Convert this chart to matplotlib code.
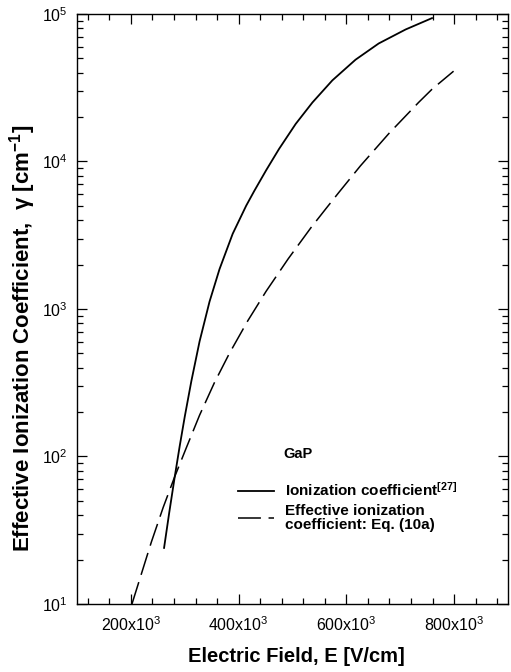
import matplotlib
matplotlib.use("Agg")
import matplotlib.pyplot as plt
from matplotlib.ticker import FixedLocator, MultipleLocator, LogLocator, NullFormatter, FixedFormatter

plt.rcParams['font.family'] = ['Liberation Sans', 'DejaVu Sans']
plt.rcParams['mathtext.fontset'] = 'custom'
plt.rcParams['mathtext.rm'] = 'Liberation Sans'
plt.rcParams['mathtext.bf'] = 'Liberation Sans:bold'
plt.rcParams['mathtext.it'] = 'Liberation Sans:italic'

# --- data (E in V/cm, gamma in 1/cm) ---
E_ion = [261.6e3, 271e3, 281.3e3, 290.6e3, 300e3, 312.2e3, 327.5e3, 346e3, 364.5e3,
         389e3, 414e3, 429e3, 451e3, 475e3, 506e3, 537e3, 574e3, 617e3, 660e3,
         710e3, 759e3]
g_ion = [24.0, 41.2, 72.4, 117.5, 186.2, 323.6, 602.6, 1122, 1862,
         3236, 5012, 6310, 8710, 12160, 17990, 25120, 35480, 48980, 63100,
         78520, 93760]

E_eff = [202e3, 238e3, 260e3, 281e3, 303e3, 327.5e3, 355e3, 383e3, 417e3, 451e3,
         492e3, 534e3, 562e3, 586e3, 626e3, 679e3, 734e3, 759e3, 799e3]
g_eff = [10, 26.3, 45.2, 72.4, 114.8, 190.5, 316.2, 501.2, 831.8, 1318,
         2188, 3548, 4786, 6166, 9333, 15490, 25120, 30900, 40930]

x_ticks = [200e3, 400e3, 600e3, 800e3]
x_tick_labels = [r'200x10$^{\mathregular{3}}$', r'400x10$^{\mathregular{3}}$',
                 r'600x10$^{\mathregular{3}}$', r'800x10$^{\mathregular{3}}$']
y_ticks = [1e1, 1e2, 1e3, 1e4, 1e5]
y_tick_labels = [r'10$^{\mathregular{1}}$', r'10$^{\mathregular{2}}$', r'10$^{\mathregular{3}}$',
                 r'10$^{\mathregular{4}}$', r'10$^{\mathregular{5}}$']

label_ion = r'Ionization coefficient$^{\mathbf{[27]}}$'
label_eff = 'Effective ionization\ncoefficient: Eq. (10a)'

fig = plt.figure(figsize=(5.11, 6.72), dpi=100)
ax = fig.add_axes([0.1507, 0.1012, 0.8434, 0.878])

ax.plot(E_ion, g_ion, color='black', lw=1.3, label=label_ion)
ax.plot(E_eff, g_eff, color='black', lw=1.1, dashes=(15, 5), label=label_eff)

ax.set_yscale('log')
ax.set_xlim(100e3, 900e3)
ax.set_ylim(10, 1e5)

ax.xaxis.set_major_locator(FixedLocator(x_ticks))
ax.xaxis.set_major_formatter(FixedFormatter(x_tick_labels))
ax.xaxis.set_minor_locator(MultipleLocator(40e3))
ax.yaxis.set_major_locator(FixedLocator(y_ticks))
ax.yaxis.set_major_formatter(FixedFormatter(y_tick_labels))
ax.yaxis.set_minor_locator(LogLocator(base=10, subs=range(2, 10)))
ax.yaxis.set_minor_formatter(NullFormatter())

ax.tick_params(which='both', direction='in', top=True, right=True, width=0.9)
ax.tick_params(which='major', length=7, labelsize=11.5)
ax.tick_params(axis='x', which='major', pad=8)
ax.tick_params(axis='y', which='major', pad=7)
ax.tick_params(which='minor', length=4)
for s in ax.spines.values():
    s.set_linewidth(1.0)

ax.set_xlabel('Electric Field, E [V/cm]', fontsize=14.5, fontweight='bold')
ax.xaxis.set_label_coords(0.51, -0.073)
ax.set_ylabel(r'Effective Ionization Coefficient,  γ [cm$^{\mathbf{-1}}$]',
              fontsize=16, fontweight='bold')
ax.yaxis.set_label_coords(-0.09, 0.45)

ax.text(0.478, 0.254, 'GaP', transform=ax.transAxes, fontsize=10.5, fontweight='bold',
        ha='left', va='center')
leg = ax.legend(loc='upper left', bbox_to_anchor=(0.355, 0.221), frameon=False,
                prop={'weight': 'bold', 'size': 11}, handlelength=2.4,
                handletextpad=0.7, labelspacing=0.3, borderpad=0)
for t in leg.get_texts():
    t.set_linespacing(1.05)

fig.savefig('out.png', dpi=100)
